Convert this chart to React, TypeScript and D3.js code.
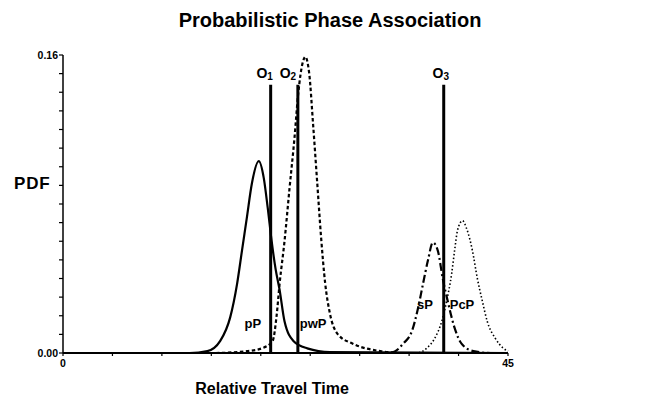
import React from "react";
import * as d3 from "d3";

// ---- data ----
const pPTimes = [0, 12.8, 14.6, 15.9, 16.9, 17.6, 18.1, 18.6, 19.1, 19.8, 20.3, 20.7, 21.1, 21.5, 21.9, 22.4, 23.3, 24.7, 27.0, 45];
const pPValues = [0, 0, 0.001, 0.0065, 0.019, 0.037, 0.055, 0.073, 0.091, 0.103, 0.094, 0.078, 0.06, 0.045, 0.034, 0.017, 0.0065, 0.0025, 0.0005, 0];

const pwPTimes = [10, 15.2, 18.6, 20.2, 21.2, 21.6, 21.9, 22.4, 22.9, 23.4, 23.8, 24.2, 24.5, 24.9, 25.3, 25.7, 26.1, 26.5, 27.0, 27.8, 29.3, 32.1, 33.8];
const pwPValues = [0, 0, 0.001, 0.0027, 0.0065, 0.02, 0.037, 0.06, 0.088, 0.115, 0.14, 0.155, 0.159, 0.15, 0.122, 0.092, 0.062, 0.038, 0.021, 0.01, 0.005, 0.001, 0];

const sPTimes = [30, 32.8, 33.6, 34.4, 35.3, 35.9, 36.4, 36.9, 37.4, 37.9, 38.4, 38.9, 39.6, 40.3, 41.5, 43.2, 45];
const sPValues = [0, 0, 0.001, 0.005, 0.012, 0.024, 0.037, 0.0496, 0.0593, 0.055, 0.04, 0.028, 0.0135, 0.005, 0.001, 0, 0];

const pcPTimes = [33, 35.8, 36.8, 37.6, 38.3, 38.8, 39.3, 39.6, 39.9, 40.4, 40.8, 41.4, 41.9, 42.4, 42.9, 43.7, 44.5, 45];
const pcPValues = [0, 0, 0.0027, 0.008, 0.017, 0.028, 0.0425, 0.055, 0.066, 0.071, 0.067, 0.055, 0.04, 0.028, 0.017, 0.008, 0.0027, 0.001];

const obsTimes = [21.0, 23.75, 38.5];
const obsSubscripts = ["1", "2", "3"];
const obsHeight = 0.144;

const phaseNames = ["pP", "pwP", "sP", "PcP"];

const yTickLabels = ["0.00", "0.16"];
const xTickLabels = ["0", "45"];

const title = "Probabilistic Phase Association";
const xTitle = "Relative Travel Time";
const yTitle = "PDF";

const FONT = "'Liberation Sans', Arial, Helvetica, sans-serif";

export default function App() {
  const W = 665, H = 401;
  const x = d3.scaleLinear().domain([0, 45]).range([63, 508]);
  const y = d3.scaleLinear().domain([0, 0.16]).range([353, 55]);

  const line = d3
    .line<[number, number]>()
    .x((d) => x(d[0]))
    .y((d) => y(d[1]))
    .curve(d3.curveMonotoneX);

  const zip = (t: number[], v: number[]) => t.map((tt, i) => [tt, v[i]] as [number, number]);

  const yMinor = d3.range(0, 0.1601, 0.01);
  const xMinor = d3.range(0, 45.01, 5);

  const curves = [
    { d: line(zip(pPTimes, pPValues)), dash: undefined, w: 2.2 },
    { d: line(zip(pwPTimes, pwPValues)), dash: "3.5 2.5", w: 2.2 },
    { d: line(zip(sPTimes, sPValues)), dash: "8 3 2 3", w: 2.2 },
    { d: line(zip(pcPTimes, pcPValues)), dash: "1.5 2.2", w: 1.6 },
  ];

  // label anchor positions in data space (layout only)
  const phaseAnchors: [number, number][] = [
    [19.2, 0.0134],
    [25.3, 0.0134],
    [36.6, 0.0236],
    [40.35, 0.0236],
  ];
  const obsLabelOffsets = [-6, -10, -3];

  return (
    <svg
      width={W}
      height={H}
      style={{ position: "absolute", left: 0, top: 0, background: "#fff" }}
      fontFamily={FONT}
    >
      <rect x={0} y={0} width={W} height={H} fill="#fff" />
      <text x={330} y={27} textAnchor="middle" fontSize={20} fontWeight="bold">
        {title}
      </text>

      {/* axes */}
      <line x1={x(0)} x2={x(0)} y1={y(0)} y2={y(0.16)} stroke="#000" strokeWidth={1.5} />
      <line x1={x(0)} x2={x(45)} y1={y(0)} y2={y(0)} stroke="#000" strokeWidth={1.8} />
      {yMinor.map((v, i) => (
        <line key={"yt" + i} x1={x(0) - 4} x2={x(0)} y1={y(v)} y2={y(v)} stroke="#000" strokeWidth={1.2} />
      ))}
      {xMinor.map((t, i) => (
        <line key={"xt" + i} x1={x(t)} x2={x(t)} y1={y(0)} y2={y(0) + 3} stroke="#000" strokeWidth={1.2} />
      ))}
      <text x={x(0) - 5} y={y(0.16) + 4} textAnchor="end" fontSize={10.5} fontWeight="bold">
        {yTickLabels[1]}
      </text>
      <text x={x(0) - 5} y={y(0) + 4} textAnchor="end" fontSize={10.5} fontWeight="bold">
        {yTickLabels[0]}
      </text>
      <text x={x(0)} y={y(0) + 14} textAnchor="middle" fontSize={10.5} fontWeight="bold">
        {xTickLabels[0]}
      </text>
      <text x={x(45)} y={y(0) + 14} textAnchor="middle" fontSize={10.5} fontWeight="bold">
        {xTickLabels[1]}
      </text>
      <text x={14} y={189} fontSize={17} fontWeight="bold" letterSpacing={0.8}>
        {yTitle}
      </text>
      <text x={272} y={394} textAnchor="middle" fontSize={16} fontWeight="bold">
        {xTitle}
      </text>

      {/* curves */}
      {curves.map((c, i) => (
        <path key={"c" + i} d={c.d || ""} fill="none" stroke="#000" strokeWidth={c.w} strokeDasharray={c.dash} />
      ))}

      {/* observations */}
      {obsTimes.map((t, i) => (
        <g key={"o" + i}>
          <line x1={x(t)} x2={x(t)} y1={y(0)} y2={y(obsHeight)} stroke="#000" strokeWidth={3} />
          <text x={x(t) + obsLabelOffsets[i]} y={78} textAnchor="middle" fontSize={14} fontWeight="bold">
            O
            <tspan fontSize={10} dy={2}>
              {obsSubscripts[i]}
            </tspan>
          </text>
        </g>
      ))}

      {phaseNames.map((name, i) => (
        <text
          key={"pl" + i}
          x={x(phaseAnchors[i][0])}
          y={y(phaseAnchors[i][1])}
          textAnchor="middle"
          fontSize={13}
          fontWeight="bold"
        >
          {name}
        </text>
      ))}
    </svg>
  );
}
